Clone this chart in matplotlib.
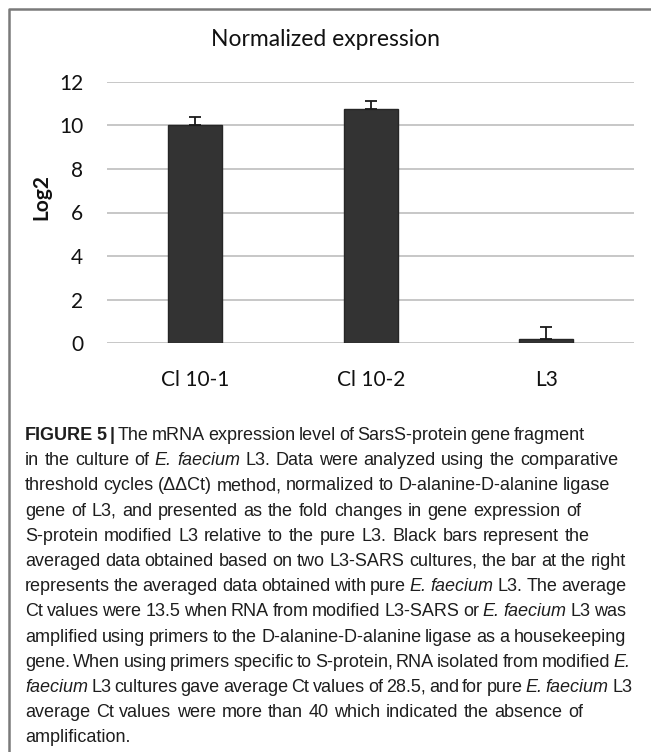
import matplotlib
matplotlib.use('Agg')
import matplotlib.pyplot as plt
import numpy as np
from matplotlib.lines import Line2D

# values
categories = ['Cl 10-1', 'Cl 10-2', 'L3']
log2_values = [10.0, 10.76, 0.21]
err_upper = [0.37, 0.37, 0.55]
y_ticks = [0, 2, 4, 6, 8, 10, 12]

title = 'Normalized expression'
y_label = 'Log2'

# caption, one entry per printed line, as (text, style) segments
caption_lines = [
    [('FIGURE 5 |', 'bold'), ('The mRNA expression level of SarsS-protein gene fragment', 'normal')],
    [('in the culture of', 'normal'), ('E. faecium', 'italic'), ('L3. Data were analyzed using the comparative', 'normal')],
    [('threshold cycles (ΔΔCt) method, normalized to D-alanine-D-alanine ligase', 'normal')],
    [('gene of L3, and presented as the fold changes in gene expression of', 'normal')],
    [('S-protein modified L3 relative to the pure L3. Black bars represent the', 'normal')],
    [('averaged data obtained based on two L3-SARS cultures, the bar at the right', 'normal')],
    [('represents the averaged data obtained with pure', 'normal'), ('E. faecium', 'italic'), ('L3. The average', 'normal')],
    [('Ct values were 13.5 when RNA from modified L3-SARS or', 'normal'), ('E. faecium', 'italic'), ('L3 was', 'normal')],
    [('amplified using primers to the D-alanine-D-alanine ligase as a housekeeping', 'normal')],
    [('gene. When using primers specific to S-protein, RNA isolated from modified', 'normal'), ('E.', 'italic')],
    [('faecium', 'italic'), ('L3 cultures gave average Ct values of 28.5, and for pure', 'normal'), ('E. faecium', 'italic'), ('L3', 'normal')],
    [('average Ct values were more than 40 which indicated the absence of', 'normal')],
    [('amplification.', 'normal')],
]
# right edge (px) of each caption line in the reference, None = ragged
caption_right = [583, 618, 610, 581, 590, 626, 626, 626, 626, 626, 626, 583, None]

plt.rcParams['font.family'] = ['Lato', 'DejaVu Sans']

W, H = 651, 752
fig = plt.figure(figsize=(W / 100, H / 100), dpi=100)
fig.patch.set_facecolor('white')

ax = fig.add_axes([107.5 / W, (H - 343.3) / H, (634 - 107.5) / W, 261.6 / H])
x = np.arange(len(categories))
ax.bar(x, log2_values, width=0.31, color='#333333', edgecolor='#262626', zorder=3)
ax.errorbar(x, log2_values, yerr=[np.zeros(len(x)), err_upper], fmt='none',
            ecolor='#1a1a1a', elinewidth=1.3, capsize=4, capthick=1.3, zorder=4)

ax.set_xlim(-0.5, len(categories) - 0.5)
ax.set_ylim(0, 12)
ax.set_yticks(y_ticks)
ax.set_xticks(x)
ax.set_xticklabels(categories)
ax.yaxis.grid(True, color='#bdbdbd', lw=1.2)
ax.set_axisbelow(True)
for s in ax.spines.values():
    s.set_visible(False)
ax.tick_params(axis='y', length=0, pad=17.5, labelsize=15, labelcolor='#111111')
ax.tick_params(axis='x', length=0, pad=19, labelsize=15, labelcolor='#111111')

fig.text(325.5 / W, 1 - 40 / H, title, ha='center', va='center', fontsize=16.5, color='#111111')
fig.text(41.5 / W, 1 - 197 / H, y_label, ha='center', va='center', rotation=90,
         fontsize=15, fontweight='bold', color='#111111')

# grey frame on left and top
fig.add_artist(Line2D([9 / W, 9 / W, 1], [0, 1 - 9 / H, 1 - 9 / H],
                      transform=fig.transFigure, color='#7a7a7a', lw=1.8))

# caption, laid out word by word so italics and line ends follow the reference
cap_family = ['Liberation Sans Narrow', 'Liberation Sans']
cap_size = 13
renderer = fig.canvas.get_renderer()
x0 = 25
base0 = 440
line_gap = 25.2

for i, segs in enumerate(caption_lines):
    words = []
    for text, style in segs:
        for w in text.split():
            words.append((w, style))
    arts = []
    widths = []
    for w, style in words:
        # the narrow face lacks the delta sign, so such words use the wide face
        fam = cap_family if w.isascii() else ['Liberation Sans']
        t = fig.text(0, 0, w, fontsize=cap_size, family=fam, color='#1e1e1e',
                     fontweight='bold' if style == 'bold' else 'normal',
                     fontstyle='italic' if style == 'italic' else 'normal',
                     ha='left', va='baseline')
        arts.append(t)
        widths.append(t.get_window_extent(renderer).width)
    if caption_right[i] is not None and len(words) > 1:
        gap = (caption_right[i] - x0 - sum(widths)) / (len(words) - 1)
        gap = max(gap, 3.2)
    else:
        gap = 4.5
    xp = x0
    yp = 1 - (base0 + i * line_gap) / H
    for t, wd in zip(arts, widths):
        t.set_position((xp / W, yp))
        xp += wd + gap

fig.savefig('out.png', dpi=100)
